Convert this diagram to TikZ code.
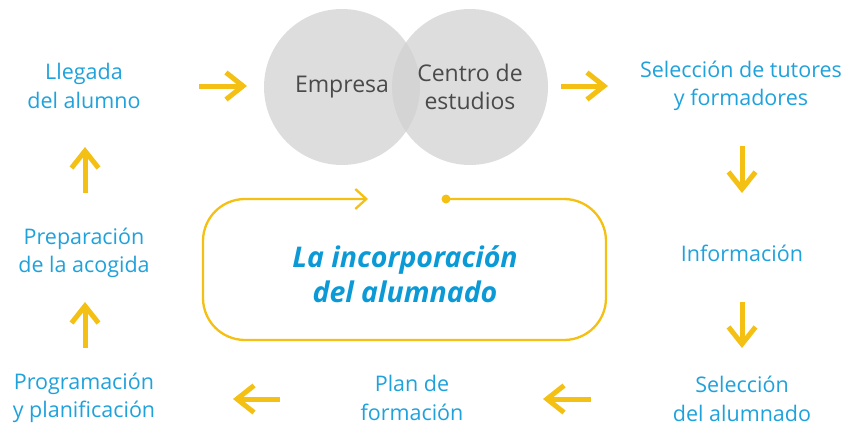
\documentclass[tikz,border=0pt]{standalone}
\usepackage{fontspec}
\setmainfont{Open Sans}
\usetikzlibrary{arrows.meta}
\definecolor{txtblue}{HTML}{1FA2DC}
\definecolor{ttlblue}{HTML}{0C9AD7}
\definecolor{ylw}{HTML}{F3C013}
\definecolor{circ}{RGB}{208,208,208}
\definecolor{dgray}{HTML}{4A4A4A}
\begin{document}
\begin{tikzpicture}[x=1pt,y=-1pt,
  stage/.style={text=txtblue, align=center, font=\fontsize{21.5}{28.5}\selectfont, inner sep=0pt},
  bubble/.style={circle, minimum size=156pt, inner sep=0pt, fill=circ, fill opacity=0.72, text opacity=1, text=dgray, align=center, font=\fontsize{23}{28}\selectfont},
  bigarrow/.style={draw=ylw, line width=5pt, -{Straight Barb[length=17pt,width=27pt]}},
  loopline/.style={draw=ylw, line width=2.3pt},
  looparrow/.style={loopline, -{Straight Barb[length=11pt,width=20pt]}}]
\useasboundingbox (0,0) rectangle (846,428);
% bubbles
\node[bubble] (empresa) at (342,87) {Empresa};
\node[bubble] (centro) at (470,87) {Centro de\\estudios};
% stages
\node[stage] (llegada) at (84,86) {Llegada\\del alumno};
\node[stage] (tutores) at (741,86) {Selección de tutores\\y formadores};
\node[stage] (info) at (742,253) {Información};
\node[stage] (selalum) at (742,399) {Selección\\del alumnado};
\node[stage] (plan) at (412,398) {Plan de\\formación};
\node[stage] (progr) at (84,398) {Programación\\y planificación};
\node[stage] (prep) at (84,253) {Preparación\\de la acogida};
% central title
\node[text=ttlblue, align=center, font=\fontsize{28.5}{35}\selectfont\bfseries\itshape, inner sep=0pt] (title) at (405,274) {La incorporación\\del alumnado};
% loop frame
\coordinate (dot) at (446,199);
\coordinate (looptip) at (368,199);
\draw[looparrow, rounded corners=42pt] (dot) -- (606,199) -- (606,340) -- (203,340) -- (203,199) -- (looptip);
\fill[ylw] (dot) circle (4.5pt);
% arrows
\coordinate (a1s) at (199,86); \coordinate (a1e) at (247,86);
\coordinate (a2s) at (561,86); \coordinate (a2e) at (608,86);
\coordinate (a3s) at (742,146); \coordinate (a3e) at (742,193);
\coordinate (a4s) at (742,302); \coordinate (a4e) at (742,348);
\coordinate (a5s) at (591,399); \coordinate (a5e) at (543,399);
\coordinate (a6s) at (280,399); \coordinate (a6e) at (233,399);
\coordinate (a7s) at (85,348); \coordinate (a7e) at (85,302);
\coordinate (a8s) at (85,193); \coordinate (a8e) at (85,147);
\foreach \i in {1,...,8} {\draw[bigarrow] (a\i s) -- (a\i e);}
\end{tikzpicture}
\end{document}
